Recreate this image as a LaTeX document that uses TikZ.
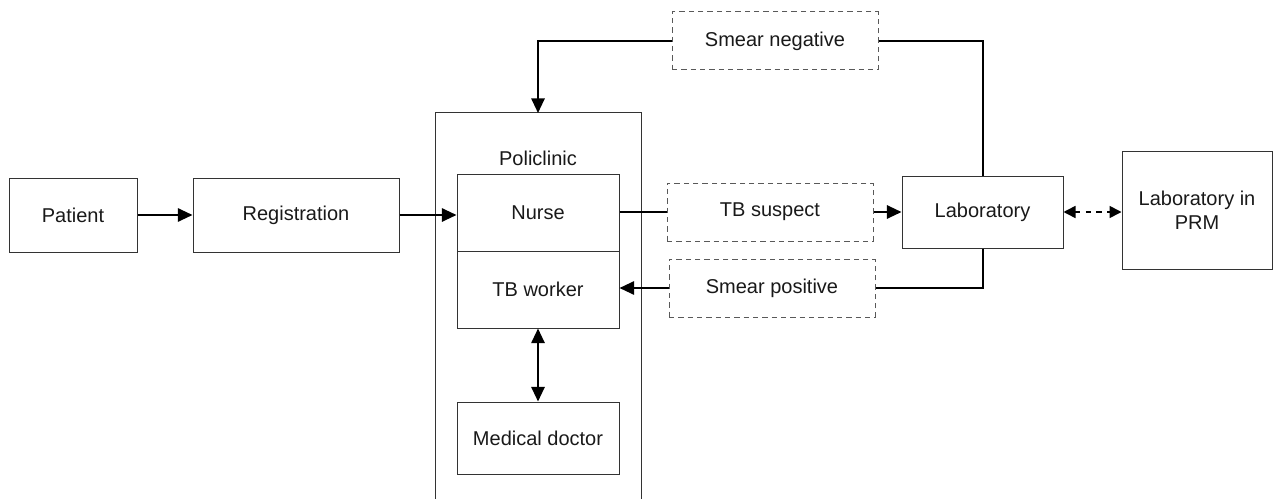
\documentclass[tikz,border=0pt]{standalone}
\usepackage{fontspec}
\setmainfont{Liberation Sans}
\usetikzlibrary{arrows.meta}
\tikzset{
  box/.style={draw=black!80, line width=0.75pt, inner sep=0pt, align=center, font=\fontsize{15}{18}\selectfont, text=black!90},
  dbox/.style={box, draw=black!65, dash pattern=on 4pt off 3pt},
  conn/.style={line width=1.5pt, black},
  arr/.style={conn, -{Triangle[length=11pt, width=10pt]}},
  darr/.style={conn, {Triangle[length=11pt, width=10pt]}-{Triangle[length=11pt, width=10pt]}},
  dashedarr/.style={line width=1.2pt, black, dash pattern=on 4pt off 4pt, {Triangle[length=9pt, width=9pt]}-{Triangle[length=9pt, width=9pt]}}
}
\begin{document}
\begin{tikzpicture}[x=0.75pt,y=-0.75pt]
\useasboundingbox (0,0) rectangle (1273,499);
% policlinic open frame
\draw[line width=0.75pt, black!80] (435,499) -- (435,113) -- (641,113) -- (641,499);
\coordinate (politop) at (538,113);
\node[font=\fontsize{15}{18}\selectfont, text=black!90] (poli) at (538,158) {Policlinic};

\node[box, minimum width=96pt, minimum height=55.5pt] (patient) at (73,215) {Patient};
\node[box, minimum width=154.5pt, minimum height=55.5pt] (reg) at (296,215) {Registration};
\node[box, minimum width=121.5pt, minimum height=57.75pt] (nurse) at (538,212.5) {Nurse};
\node[box, minimum width=121.5pt, minimum height=57.75pt] (tbw) at (538,289.5) {TB worker};
\node[box, minimum width=121.5pt, minimum height=54pt] (doc) at (538,438) {Medical doctor};
\node[dbox, minimum width=154.5pt, minimum height=43.5pt] (sneg) at (775,41) {Smear negative};
\node[dbox, minimum width=154.5pt, minimum height=43.5pt] (tbs) at (770,212) {TB suspect};
\node[dbox, minimum width=154.5pt, minimum height=43.5pt] (spos) at (772,288) {Smear positive};
\node[box, minimum width=120.75pt, minimum height=54pt] (lab) at (982.5,212) {Laboratory};
\node[box, minimum width=112.5pt, minimum height=87.75pt] (prm) at (1197,210.5) {Laboratory in\\PRM};

\draw[arr] (patient.east) -- (reg.west);
\draw[arr] (reg.east) -- (reg.east -| nurse.west);
\draw[conn] (nurse.east |- tbs.west) -- (tbs.west);
\draw[arr] (tbs.east) -- (lab.west);
\draw[conn] (lab.north) |- (sneg.east);
\draw[arr] (sneg.west) -| (politop);
\draw[conn] (lab.south) |- (spos.east);
\draw[arr] (spos.west) -- (spos.west -| tbw.east);
\draw[darr] (tbw.south) -- (doc.north);
\draw[dashedarr] (lab.east) -- (prm.west |- lab.east);
\end{tikzpicture}
\end{document}
